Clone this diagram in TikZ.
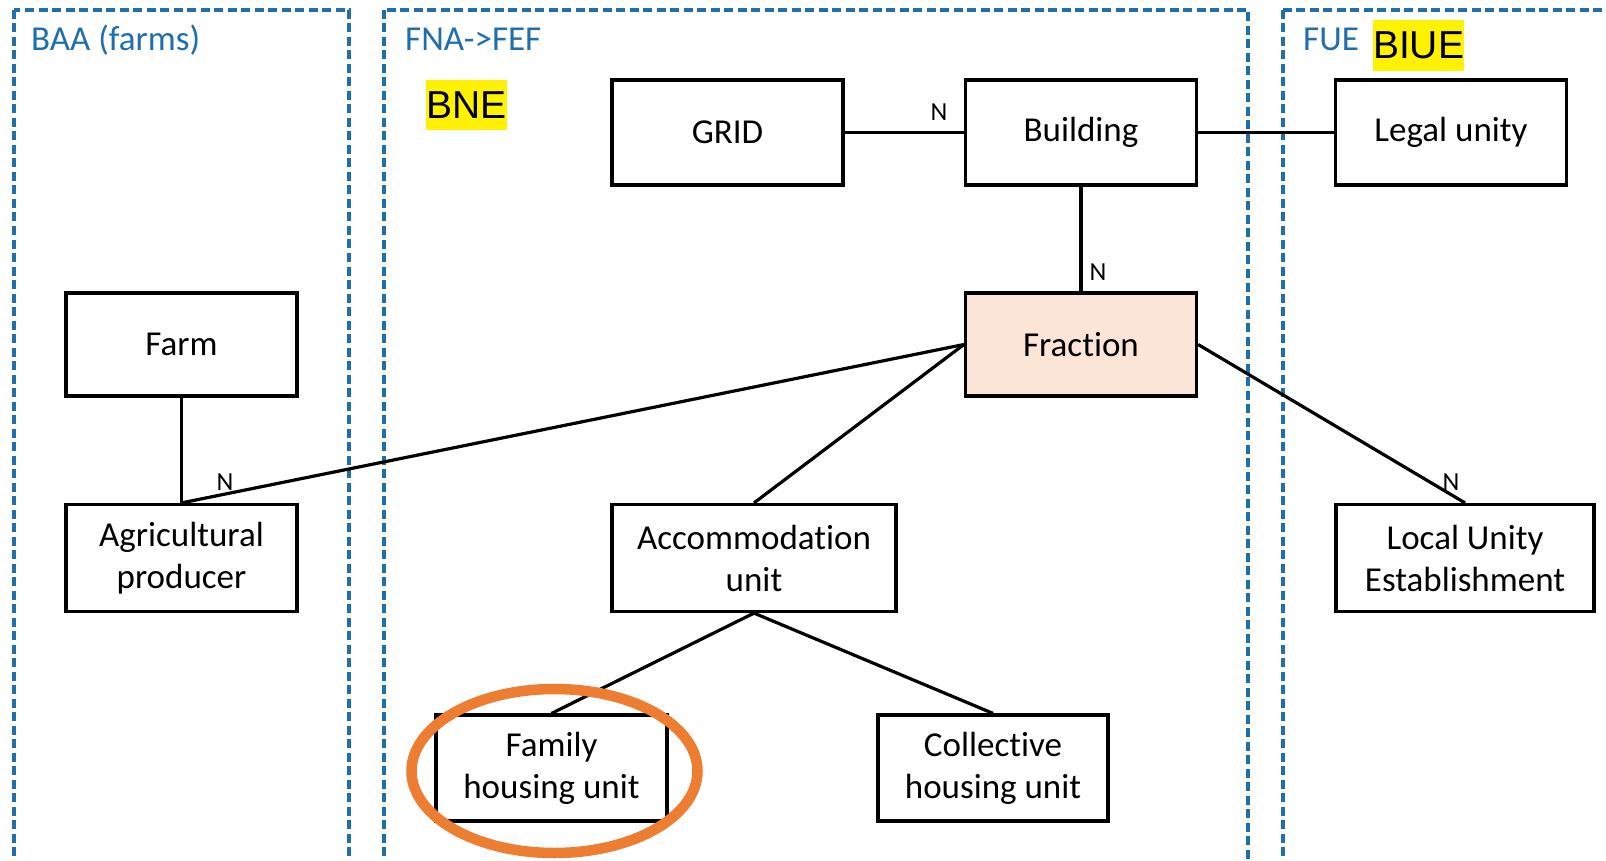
\documentclass[tikz,border=0pt]{standalone}
\usepackage{fontspec}
\setmainfont[Ligatures={NoCommon}]{Carlito}
\newfontfamily\arialf{Liberation Sans}
\usetikzlibrary{shapes.geometric}
\definecolor{grpblue}{HTML}{1F6FAF}
\definecolor{fracfill}{HTML}{FBE5D6}
\definecolor{hlorange}{HTML}{ED7D31}
\tikzset{
  ebox/.style={draw=black, line width=3.2pt, fill=white, minimum width=231pt, minimum height=105pt,
    inner sep=0pt, align=center, font=\fontsize{35}{42}\selectfont},
  grp/.style={draw=grpblue, line width=3.6pt, dash pattern=on 9pt off 4.5pt},
  grplabel/.style={anchor=base west, inner sep=0pt, text=grpblue, font=\fontsize{35}{42}\selectfont},
  conn/.style={draw=black, line width=3.2pt},
  nlab/.style={inner sep=0pt, font=\fontsize{26}{30}\selectfont},
  yhl/.style={fill=yellow, inner sep=0pt, font=\arialf\fontsize{39}{46}\selectfont}
}
\begin{document}
\begin{tikzpicture}[x=1pt,y=-1pt]
\useasboundingbox (0,0) rectangle (1606,861);
\fill[white] (0,0) rectangle (1606,861);
\begin{scope}
\clip (0,0) rectangle (1606,861);
\draw[grp] (14,10) rectangle (349,900);
\draw[grp] (384,10) rectangle (1248,900);
\draw[grp] (1283,10) rectangle (1700,900);
\end{scope}
% group labels
\node[grplabel] (lbaa) at (31,51) {BAA (farms)};
\node[grplabel] (lfna) at (405,51) {FNA->FEF};
\node[grplabel] (lfue) at (1303,51) {FUE};
\node[yhl, minimum width=80pt, minimum height=50pt] (bne) at (466.5,105) {BNE};
\node[yhl, minimum width=91pt, minimum height=51pt] (biue) at (1418.5,45.5) {BIUE};
% boxes
\node[ebox] (grid) at (727.5,132.5) {GRID};
\node[ebox] (bldg) at (1081,132.5) {Building};
\node[ebox] (legal) at (1451,132.5) {Legal unity};
\node[ebox, fill=fracfill, minimum height=103pt] (frac) at (1081,344.5) {Fraction};
\node[ebox, minimum height=103pt] (farm) at (181.5,344.5) {Farm};
\node[ebox, minimum height=107pt] (agri) at (181.5,558) {Agricultural\\producer};
\node[ebox, minimum width=284pt, minimum height=107pt] (accom) at (754,558) {Accommodation\\unit};
\node[ebox, minimum width=258pt, minimum height=107pt] (local) at (1465,558) {Local Unity\\Establishment};
\node[ebox, minimum height=106pt] (family) at (551.5,768) {Family\\housing unit};
\node[ebox, minimum width=230pt, minimum height=106pt] (coll) at (993,768) {Collective\\housing unit};
% connectors
\draw[conn] (grid.east) -- (bldg.west);
\draw[conn] (bldg.east) -- (legal.west);
\draw[conn] (bldg.south) -- (frac.north);
\draw[conn] (farm.south) -- (agri.north);
\draw[conn] (frac.west) -- (agri.north);
\draw[conn] (frac.west) -- (accom.north);
\draw[conn] (frac.east) -- (local.north);
\draw[conn] (accom.south) -- (family.north);
\draw[conn] (accom.south) -- (coll.north);
% N labels
\node[nlab] (n1) at (939,112) {N};
\node[nlab] (n2) at (1098,272) {N};
\node[nlab] (n3) at (225,482) {N};
\node[nlab] (n4) at (1451,482) {N};
% highlight ellipse
\node[ellipse, draw=hlorange, line width=10.5pt, minimum width=286pt, minimum height=164pt, inner sep=0pt] (ring) at (554.5,771) {};
\end{tikzpicture}
\end{document}
